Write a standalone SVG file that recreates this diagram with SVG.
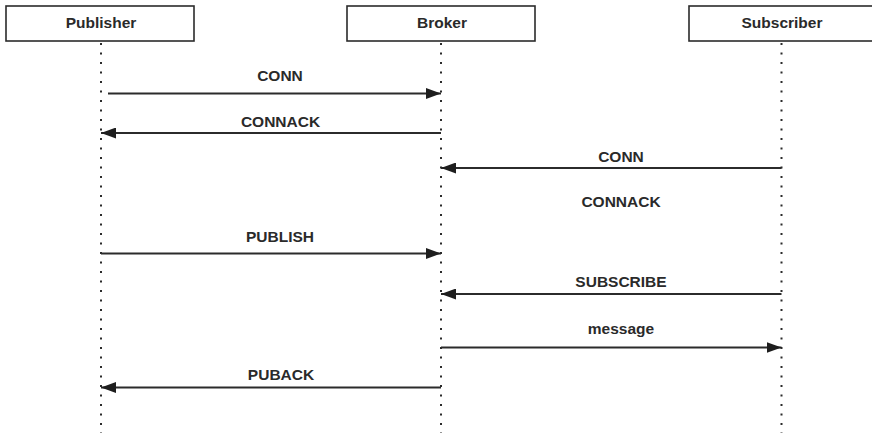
<svg xmlns="http://www.w3.org/2000/svg" width="872" height="433" viewBox="0 0 872 433">
  <style>
    .box { fill: #ffffff; stroke: #2b2b2b; stroke-width: 1.6; }
    .life { stroke: #2b2b2b; stroke-width: 2; stroke-dasharray: 2 7.5; fill: none; }
    .msg { stroke: #2b2b2b; stroke-width: 1.8; fill: none; }
    text { font-family: "Liberation Sans", Arial, sans-serif; font-weight: bold; font-size: 15.5px; fill: #2a2a2a; text-anchor: middle; }
  </style>
  <defs>
    <marker id="arrow" viewBox="0 0 15 11" refX="15" refY="5.5" markerWidth="15" markerHeight="11" markerUnits="userSpaceOnUse" orient="auto">
      <path d="M0,0 L15,5.5 L0,11 Z" fill="#1e1e1e"/>
    </marker>
  </defs>

  <!-- participants with their lifelines -->
  <g id="publisher">
    <line class="life" x1="101" y1="43" x2="101" y2="433"/>
    <rect class="box" x="6" y="6" width="188" height="35"/>
    <text x="101" y="28">Publisher</text>
  </g>
  <g id="broker">
    <line class="life" x1="441" y1="43" x2="441" y2="433"/>
    <rect class="box" x="347" y="6" width="188" height="35"/>
    <text x="442" y="28">Broker</text>
  </g>
  <g id="subscriber">
    <line class="life" x1="781.5" y1="43" x2="781.5" y2="433"/>
    <rect class="box" x="689" y="6" width="188" height="35"/>
    <text x="782" y="28">Subscriber</text>
  </g>

  <!-- messages -->
  <g id="connectors">
    <line class="msg" x1="108" y1="93.5" x2="441" y2="93.5" marker-end="url(#arrow)"/>
    <text x="280" y="81">CONN</text>

    <line class="msg" x1="441" y1="133" x2="101" y2="133" marker-end="url(#arrow)"/>
    <text x="280.5" y="127">CONNACK</text>

    <line class="msg" x1="781.5" y1="168" x2="441" y2="168" marker-end="url(#arrow)"/>
    <text x="621" y="161.5">CONN</text>

    <text x="621" y="207">CONNACK</text>

    <line class="msg" x1="101" y1="253.5" x2="441" y2="253.5" marker-end="url(#arrow)"/>
    <text x="280" y="242">PUBLISH</text>

    <line class="msg" x1="781.5" y1="294" x2="441" y2="294" marker-end="url(#arrow)"/>
    <text x="621" y="287">SUBSCRIBE</text>

    <line class="msg" x1="441" y1="347.5" x2="781.5" y2="347.5" marker-end="url(#arrow)"/>
    <text x="621" y="334">message</text>

    <line class="msg" x1="441" y1="387.5" x2="101" y2="387.5" marker-end="url(#arrow)"/>
    <text x="281" y="379.5">PUBACK</text>
  </g>
</svg>
